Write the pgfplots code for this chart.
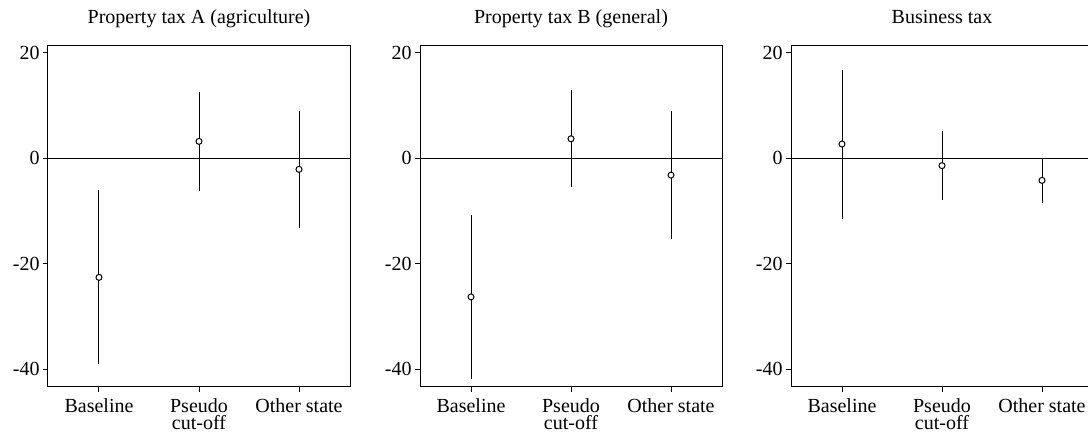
\documentclass[border=0pt]{standalone}
\usepackage{pgfplots}
\pgfplotsset{compat=1.18}
\usepackage{pgfplotstable}
\usepackage{fontspec}
\setmainfont{Liberation Serif}

% estimate, lower and upper bound of the interval
\pgfplotstableread{
x y lo hi
0 -22.6 -39.1 -6.1
1 3.2 -6.2 12.5
2 -2.1 -13.2 8.9
}\taxA
\pgfplotstableread{
x y lo hi
0 -26.3 -41.8 -10.7
1 3.7 -5.5 13.0
2 -3.2 -15.3 9.0
}\taxB
\pgfplotstableread{
x y lo hi
0 2.7 -11.5 16.8
1 -1.4 -8.0 5.1
2 -4.2 -8.4 0.0
}\taxC

\pgfplotsset{
  panel/.style={
    scale only axis, width=151pt, height=170.5pt,
    xmin=-0.51, xmax=2.51, ymin=-43.4, ymax=21.3,
    xtick={0,1,2}, xticklabels={Baseline,Pseudo\\cut-off,Other state},
    ytick={-40,-20,0,20}, yticklabels={-40,-20,0,20},
    tick align=outside, xtick pos=bottom, ytick pos=left,
    major tick length=2.5pt,
    axis line style={line width=0.5pt},
    tick style={black, line width=0.5pt},
    xticklabel style={align=center, font=\fontsize{10}{8.5}\selectfont, yshift=0pt},
    yticklabel style={xshift=1.8pt},
    title style={at={(0.5,1)}, anchor=base, yshift=5.2pt},
  },
  ci/.style={only marks, mark=*, mark size=1.5pt,
    mark options={fill=white, draw=black, line width=0.5pt},
    error bars/.cd, y dir=both, y explicit, error mark=none,
    error bar style={black, line width=0.5pt}},
}

\begin{document}
\begin{tikzpicture}
\begin{axis}[panel, at={(24pt,23pt)}, title={Property tax A (agriculture)}]
  \addplot[black, line width=0.5pt] coordinates {(-0.51,0) (2.51,0)};
  \addplot[ci] table[x=x, y=y,
    y error plus expr=\thisrow{hi}-\thisrow{y},
    y error minus expr=\thisrow{y}-\thisrow{lo}] {\taxA};
\end{axis}
\begin{axis}[panel, at={(210pt,23pt)}, title={Property tax B (general)}]
  \addplot[black, line width=0.5pt] coordinates {(-0.51,0) (2.51,0)};
  \addplot[ci] table[x=x, y=y,
    y error plus expr=\thisrow{hi}-\thisrow{y},
    y error minus expr=\thisrow{y}-\thisrow{lo}] {\taxB};
\end{axis}
\begin{axis}[panel, at={(395.5pt,23pt)}, title={Business tax}]
  \addplot[black, line width=0.5pt] coordinates {(-0.51,0) (2.51,0)};
  \addplot[ci] table[x=x, y=y,
    y error plus expr=\thisrow{hi}-\thisrow{y},
    y error minus expr=\thisrow{y}-\thisrow{lo}] {\taxC};
\end{axis}
\pgfresetboundingbox
\useasboundingbox (0pt,0pt) rectangle (544pt,216.5pt);
\end{tikzpicture}
\end{document}
